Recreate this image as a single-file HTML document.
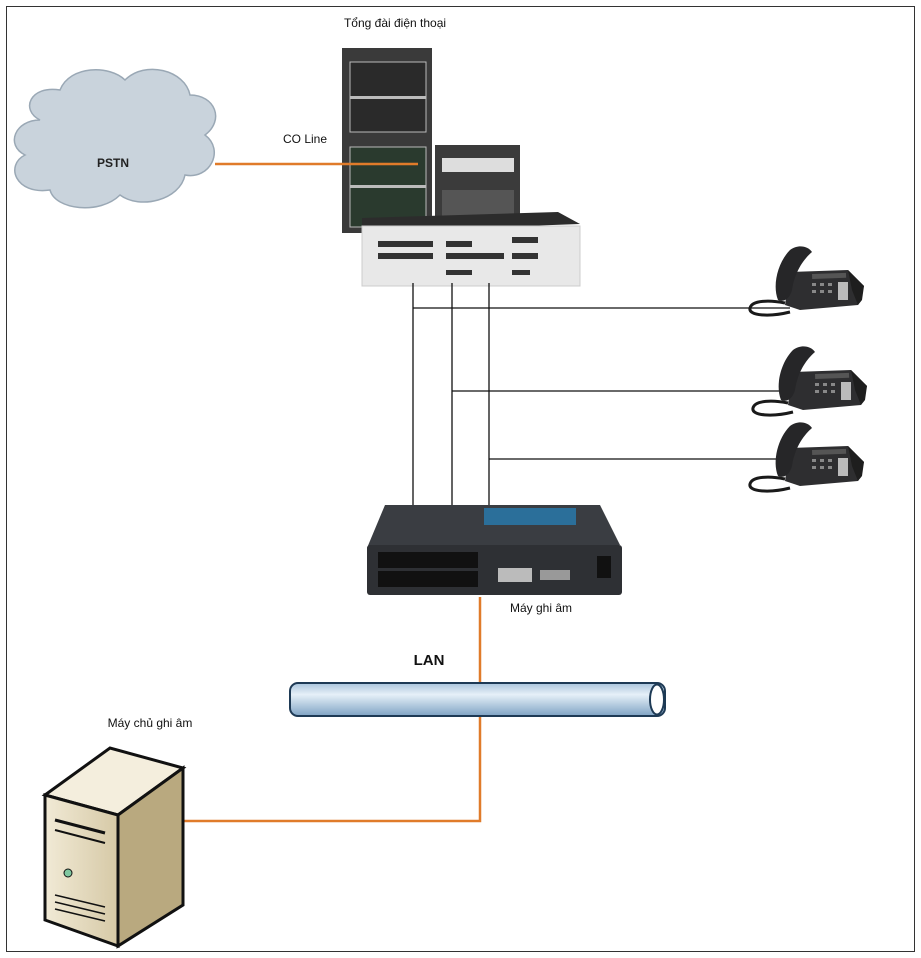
<!DOCTYPE html>
<html><head><meta charset="utf-8"><style>
html,body{margin:0;padding:0;background:#fff;}
svg{display:block;font-family:"Liberation Sans",Arial,sans-serif;}
</style></head><body>
<svg width="921" height="958" viewBox="0 0 921 958" xmlns="http://www.w3.org/2000/svg">
<defs>
<linearGradient id="pipe" x1="0" y1="0" x2="0" y2="1">
<stop offset="0" stop-color="#a9c4dc"/><stop offset="0.35" stop-color="#e6f0f8"/><stop offset="1" stop-color="#7fa3c4"/></linearGradient>
<linearGradient id="srv" x1="0" y1="0" x2="1" y2="0">
<stop offset="0" stop-color="#f1ead6"/><stop offset="1" stop-color="#d6c9a6"/></linearGradient>
</defs>
<rect x="6.5" y="6.5" width="908" height="945" fill="#fff" stroke="#333" stroke-width="1"/>

<!-- cloud -->
<path d="M40,120 C20,110 30,85 60,90 C70,65 110,65 125,80 C145,60 185,70 190,95 C215,95 225,120 205,135 C225,150 210,180 185,175 C180,200 140,210 120,195 C100,215 55,210 50,190 C15,195 5,165 25,155 C5,145 15,120 40,120 Z" fill="#c9d3dc" stroke="#9aa8b5" stroke-width="1.5"/>
<text x="113" y="167" font-size="12" font-weight="bold" text-anchor="middle" fill="#222">PSTN</text>

<!-- PBX -->
<text x="395" y="27" font-size="12" text-anchor="middle" fill="#111">Tổng đài điện thoại</text>
<rect x="342" y="48" width="90" height="185" fill="#3a3a3a"/>
<rect x="350" y="62" width="76" height="70" fill="#2a2a2a" stroke="#bbb" stroke-width="1"/>
<rect x="350" y="96" width="76" height="3" fill="#bbb"/>
<rect x="350" y="147" width="76" height="80" fill="#2a3a2e" stroke="#bbb"/>
<rect x="350" y="185" width="76" height="3" fill="#bbb"/>
<rect x="435" y="145" width="85" height="80" fill="#3b3b3b"/>
<rect x="442" y="158" width="72" height="14" fill="#ddd"/>
<rect x="442" y="190" width="72" height="30" fill="#555"/>
<text x="305" y="143" font-size="12" text-anchor="middle" fill="#111">CO Line</text>
<polygon points="362,218 558,212 580,224 362,232" fill="#2c2c2c"/>
<rect x="362" y="226" width="218" height="60" fill="#e8e8e8" stroke="#ccc"/>
<g fill="#333">
<rect x="378" y="241" width="55" height="6"/><rect x="378" y="253" width="55" height="6"/>
<rect x="446" y="241" width="26" height="6"/><rect x="446" y="253" width="58" height="6"/>
<rect x="446" y="270" width="26" height="5"/>
<rect x="512" y="237" width="26" height="6"/><rect x="512" y="253" width="26" height="6"/><rect x="512" y="270" width="18" height="5"/>
</g>

<!-- orange lines -->
<g stroke="#e07b2a" stroke-width="2.5" fill="none">
<line x1="215" y1="164" x2="418" y2="164"/>
<line x1="480" y1="597" x2="480" y2="683"/>
<polyline points="480,716 480,821 183,821"/>
</g>

<!-- black lines -->
<g stroke="#111" stroke-width="1.3" fill="none">
<line x1="413" y1="283" x2="413" y2="535"/>
<line x1="452" y1="283" x2="452" y2="535"/>
<line x1="489" y1="283" x2="489" y2="535"/>
<line x1="413" y1="308" x2="790" y2="308"/>
<line x1="452" y1="391" x2="793" y2="391"/>
<line x1="489" y1="459" x2="790" y2="459"/>
</g>

<!-- phones -->
<g id="ph">
<polygon points="790,272 848,270 864,286 858,305 800,310 785,305" fill="#2e2e30"/>
<polygon points="848,270 864,286 862,300 858,305 852,290" fill="#1e1e1e"/>
<rect x="812" y="274" width="34" height="5" fill="#555" transform="rotate(-2 812 274)"/>
<g fill="#888"><rect x="812" y="283" width="4" height="3"/><rect x="820" y="283" width="4" height="3"/><rect x="828" y="283" width="4" height="3"/><rect x="812" y="290" width="4" height="3"/><rect x="820" y="290" width="4" height="3"/><rect x="828" y="290" width="4" height="3"/><rect x="838" y="282" width="10" height="18" fill="#bbb"/></g>
<path d="M778,300 C772,285 778,262 790,250 C798,244 808,246 812,252 C805,258 795,270 792,290 C790,298 784,303 778,300 Z" fill="#262628"/>
<path d="M785,303 C770,300 752,300 750,308 C748,316 770,317 790,312" stroke="#1a1a1a" stroke-width="3" fill="none"/>
</g>
<use href="#ph" transform="translate(3,100)"/>
<use href="#ph" transform="translate(0,176)"/>

<!-- recorder -->
<polygon points="385,505 600,505 620,545 367,548" fill="#3a3d42"/>
<rect x="484" y="508" width="92" height="17" fill="#2b6f9a"/>
<rect x="367" y="545" width="255" height="50" rx="3" fill="#2e3034"/>
<rect x="378" y="552" width="100" height="16" fill="#111"/>
<rect x="378" y="571" width="100" height="16" fill="#111"/>
<rect x="498" y="568" width="34" height="14" fill="#bbb"/>
<rect x="540" y="570" width="30" height="10" fill="#999"/>
<rect x="597" y="556" width="14" height="22" fill="#111"/>
<text x="541" y="612" font-size="12" text-anchor="middle" fill="#111">Máy ghi âm</text>

<!-- LAN -->
<text x="429" y="665" font-size="15" font-weight="bold" text-anchor="middle" fill="#111">LAN</text>
<rect x="290" y="683" width="375" height="33" rx="8" fill="url(#pipe)" stroke="#1e3a55" stroke-width="2"/>
<ellipse cx="657" cy="699.5" rx="7" ry="15" fill="#fff" stroke="#1e3a55" stroke-width="2"/>

<!-- server -->
<text x="150" y="727" font-size="12" text-anchor="middle" fill="#111">Máy chủ ghi âm</text>
<polygon points="45,795 110,748 183,768 118,815" fill="#f4eedd" stroke="#111" stroke-width="3"/>
<polygon points="118,815 183,768 183,905 118,946" fill="#b9a97f" stroke="#111" stroke-width="3"/>
<polygon points="45,795 118,815 118,946 45,920" fill="url(#srv)" stroke="#111" stroke-width="3"/>
<line x1="55" y1="820" x2="105" y2="833" stroke="#111" stroke-width="3"/>
<line x1="55" y1="830" x2="105" y2="843" stroke="#111" stroke-width="2"/>
<circle cx="68" cy="873" r="4" fill="#7fc7a0" stroke="#111"/>
<g stroke="#111" stroke-width="1.5"><line x1="55" y1="895" x2="105" y2="907"/><line x1="55" y1="902" x2="105" y2="914"/><line x1="55" y1="909" x2="105" y2="921"/></g>
</svg>
</body></html>
